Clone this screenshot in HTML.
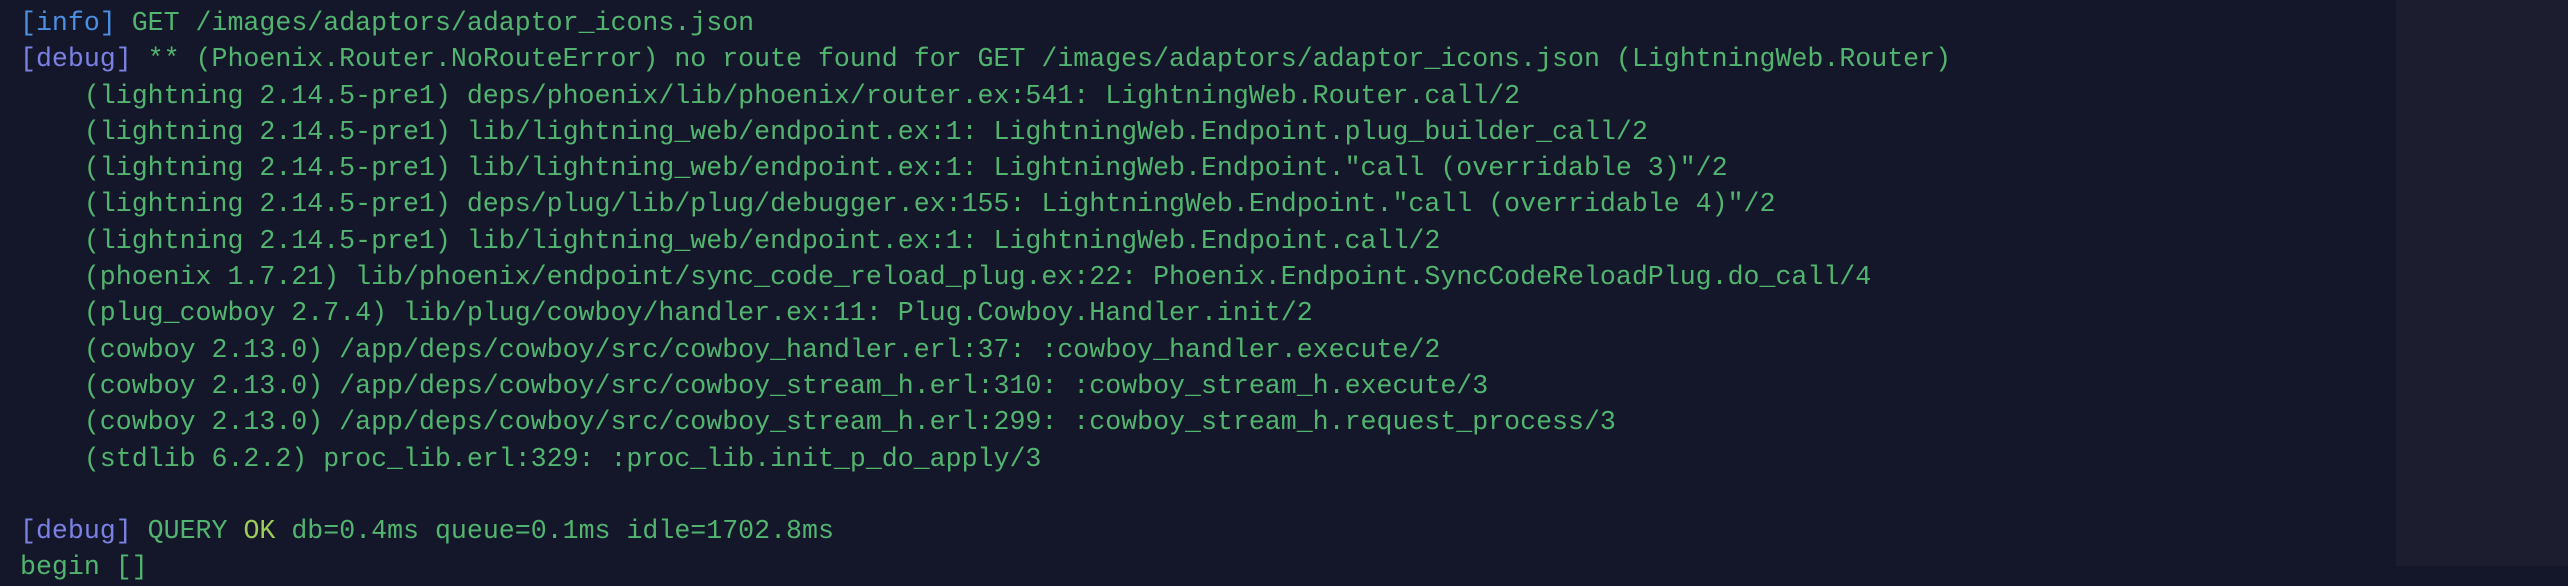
<!DOCTYPE html>
<html><head><meta charset="utf-8"><style>
html,body{margin:0;padding:0;}
body{width:2568px;height:566px;overflow:hidden;background:#141729;position:relative;}
.side{position:absolute;left:2396px;top:0;width:172px;height:566px;background:#1c1d2e;}
pre{position:absolute;left:20px;top:5px;margin:0;font-family:"Liberation Mono",monospace;font-size:26.6px;line-height:36.3px;color:#52b56f;white-space:pre;}
.i{color:#4a8fe3}.d{color:#7b80e6}.y{color:#9ccc5a}
</style></head><body>
<div class="side"></div>
<pre><span class="i">[info]</span> GET /images/adaptors/adaptor_icons.json
<span class="d">[debug]</span> ** (Phoenix.Router.NoRouteError) no route found for GET /images/adaptors/adaptor_icons.json (LightningWeb.Router)
    (lightning 2.14.5-pre1) deps/phoenix/lib/phoenix/router.ex:541: LightningWeb.Router.call/2
    (lightning 2.14.5-pre1) lib/lightning_web/endpoint.ex:1: LightningWeb.Endpoint.plug_builder_call/2
    (lightning 2.14.5-pre1) lib/lightning_web/endpoint.ex:1: LightningWeb.Endpoint."call (overridable 3)"/2
    (lightning 2.14.5-pre1) deps/plug/lib/plug/debugger.ex:155: LightningWeb.Endpoint."call (overridable 4)"/2
    (lightning 2.14.5-pre1) lib/lightning_web/endpoint.ex:1: LightningWeb.Endpoint.call/2
    (phoenix 1.7.21) lib/phoenix/endpoint/sync_code_reload_plug.ex:22: Phoenix.Endpoint.SyncCodeReloadPlug.do_call/4
    (plug_cowboy 2.7.4) lib/plug/cowboy/handler.ex:11: Plug.Cowboy.Handler.init/2
    (cowboy 2.13.0) /app/deps/cowboy/src/cowboy_handler.erl:37: :cowboy_handler.execute/2
    (cowboy 2.13.0) /app/deps/cowboy/src/cowboy_stream_h.erl:310: :cowboy_stream_h.execute/3
    (cowboy 2.13.0) /app/deps/cowboy/src/cowboy_stream_h.erl:299: :cowboy_stream_h.request_process/3
    (stdlib 6.2.2) proc_lib.erl:329: :proc_lib.init_p_do_apply/3

<span class="d">[debug]</span> QUERY <span class="y">OK</span> db=0.4ms queue=0.1ms idle=1702.8ms
begin []</pre>
</body></html>
